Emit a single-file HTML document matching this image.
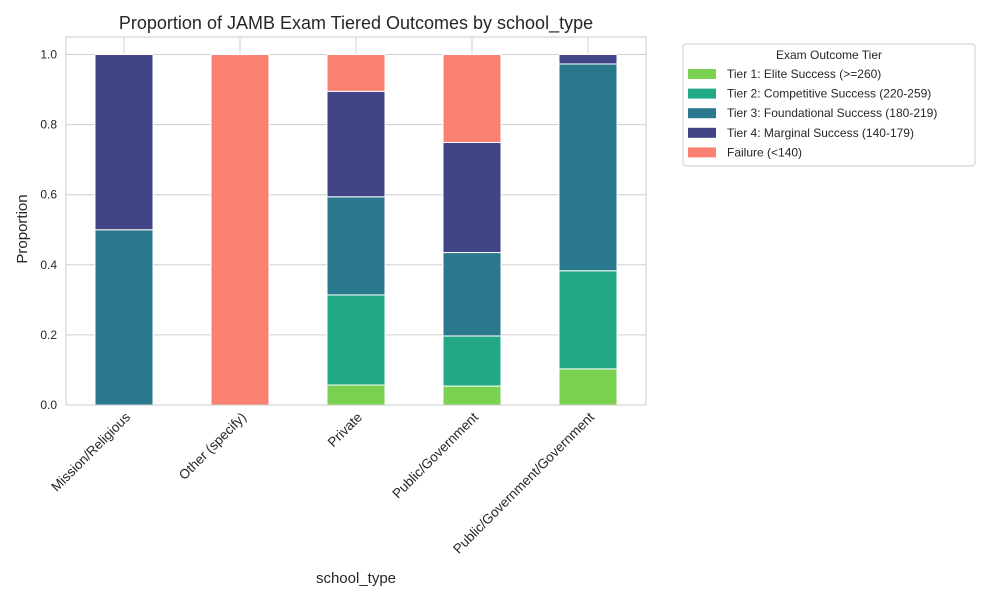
<!DOCTYPE html>
<html><head><meta charset="utf-8"><style>
body{margin:0;background:#fff;font-family:"Liberation Sans",Arial,sans-serif;}
</style></head><body>
<svg id="chart" width="1000" height="600" xmlns="http://www.w3.org/2000/svg"></svg>
<script>
const categories=["Mission/Religious","Other (specify)","Private","Public/Government","Public/Government/Government"];
const seriesNames=["Tier 1: Elite Success (>=260)","Tier 2: Competitive Success (220-259)","Tier 3: Foundational Success (180-219)","Tier 4: Marginal Success (140-179)","Failure (<140)"];
const tier1=[0,0,0.057,0.054,0.103];
const tier2=[0,0,0.257,0.143,0.280];
const tier3=[0.5,0,0.280,0.238,0.590];
const tier4=[0.5,0,0.301,0.314,0.027];
const failure=[0,1,0.105,0.251,0];
const yTicks=[0,0.2,0.4,0.6,0.8,1.0];
const colors=["#7ad151","#22a884","#2a788e","#414487","#fa8072"];
const series=[tier1,tier2,tier3,tier4,failure];
const NS="http://www.w3.org/2000/svg";
const svg=document.getElementById('chart');
const L=66,R=646,T=37,B=405;
const y=v=>B-v*(B-T)/1.05;
const step=(R-L)/categories.length;
const x=i=>L+step*(i+0.5);
const bw=58;
function mk(tag,attrs,parent){const e=document.createElementNS(NS,tag);for(const k in attrs)e.setAttribute(k,attrs[k]);(parent||svg).appendChild(e);return e;}
yTicks.forEach(t=>{const g=mk('line',{x1:L,x2:R,y1:y(t),y2:y(t),stroke:'#d0d0d0','stroke-width':1});


const tx=mk('text',{x:L-9,y:y(t)+4,'text-anchor':'end','font-size':12,fill:'#262626'});tx.textContent=t.toFixed(1);

});
categories.forEach((c,i)=>{const g=mk('line',{x1:x(i),x2:x(i),y1:T,y2:B,stroke:'#d0d0d0','stroke-width':1});

});
categories.forEach((c,i)=>{let acc=0;series.forEach((s,k)=>{const v=s[i];if(v>0){const r=mk('rect',{x:x(i)-bw/2,y:y(acc+v),width:bw,height:y(acc)-y(acc+v),fill:colors[k],stroke:'#fff','stroke-width':1});

}acc+=v;});
const tx=mk('text',{x:0,y:0,'text-anchor':'end','font-size':13.5,fill:'#262626',transform:`translate(${x(i)+7},${B+13}) rotate(-45)`});tx.textContent=c;

});
const frame=mk('rect',{x:L,y:T,width:R-L,height:B-T,fill:'none',stroke:'#cccccc','stroke-width':1});


const title=mk('text',{x:356,y:29,'text-anchor':'middle','font-size':18,fill:'#262626'});title.textContent="Proportion of JAMB Exam Tiered Outcomes by school_type";


const xt=mk('text',{x:356,y:583,'text-anchor':'middle','font-size':15,fill:'#262626'});xt.textContent="school_type";


const yt=mk('text',{x:0,y:0,'text-anchor':'middle','font-size':15,fill:'#262626',transform:`translate(27,${(T+B)/2+8}) rotate(-90)`});yt.textContent="Proportion";


const lg=mk('g',{});


mk('rect',{x:683,y:44,width:292,height:122,rx:3,fill:'#fff',stroke:'#cccccc'},lg);
const lt=mk('text',{x:829,y:59,'text-anchor':'middle','font-size':12,fill:'#262626'},lg);lt.textContent="Exam Outcome Tier";


seriesNames.forEach((n,k)=>{const yy=74+k*19.6;const p=mk('rect',{x:688,y:yy-5,width:28,height:10,fill:colors[k]},lg);


const t=mk('text',{x:727,y:yy+4,'font-size':12,fill:'#262626'},lg);t.textContent=n;

});
</script>
</body></html>
